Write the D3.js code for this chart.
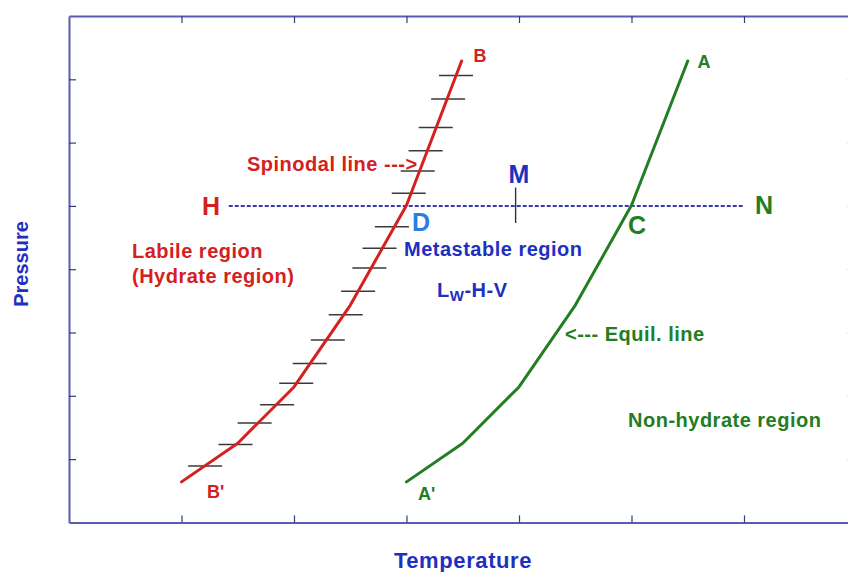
<!DOCTYPE html>
<html>
<head>
<meta charset="utf-8">
<script src="https://cdn.jsdelivr.net/npm/d3@7"></script>
<style>
  html, body { margin: 0; padding: 0; background: #fff; }
  svg { display: block; font-family: "Liberation Sans", Arial, sans-serif; font-weight: bold; }
</style>
</head>
<body>
<svg id="chart" width="848" height="572"></svg>
<script>
// ---- data (arbitrary units: T in tick units, P in tick units) ----
const pressure   = [0.64, 1.25, 2.14, 3.43, 5.01, 7.29];
const equilT     = [3.00, 3.50, 4.00, 4.50, 5.00, 5.50];   // A' -> A (equilibrium line)
const spinodalT  = [1.00, 1.50, 2.00, 2.50, 3.00, 3.49];   // B' -> B (spinodal line)
const hatchT = [1.21, 1.48, 1.65, 1.85, 2.02, 2.14, 2.30, 2.46, 2.57, 2.67, 2.76, 2.87, 3.02, 3.10, 3.17, 3.26, 3.37, 3.44];
const hatchP = [0.89, 1.23, 1.57, 1.86, 2.20, 2.51, 2.88, 3.28, 3.65, 4.02, 4.33, 4.67, 5.20, 5.55, 5.87, 6.24, 6.69, 7.06];
const isobarT = [1.42, 6.00];   // H -> N
const isobarP = 5.00;
const markM = { T: 3.97, P: [4.73, 5.29] };
const xTicks = [1, 2, 3, 4, 5, 6];
const yTicks = [1, 2, 3, 4, 5, 6, 7];

// ---- layout ----
const svg = d3.select("#chart");
const x = d3.scaleLinear().domain([0, 7]).range([69, 856.5]);
const y = d3.scaleLinear().domain([0, 8]).range([522.4, 16]);

const frameColor = "#5b5bb5";
const red = "#d42020", green = "#237d23", blue = "#1f2fc0";

function styleAxis(g) {
  g.select(".domain").attr("stroke", frameColor).attr("stroke-width", 2);
  g.selectAll(".tick line").attr("stroke", "#3a3a7a").attr("stroke-width", 1.2);
}
svg.append("g").attr("transform", `translate(0,${y(8)})`)
  .call(d3.axisBottom(x).tickValues(xTicks).tickSize(7).tickSizeOuter(0).tickFormat(""))
  .call(styleAxis);
svg.append("g").attr("transform", `translate(0,${y(0)})`)
  .call(d3.axisTop(x).tickValues(xTicks).tickSize(7).tickSizeOuter(0).tickFormat(""))
  .call(styleAxis);
svg.append("g").attr("transform", `translate(${x(0)},0)`)
  .call(d3.axisRight(y).tickValues(yTicks).tickSize(7).tickSizeOuter(0).tickFormat(""))
  .call(styleAxis);
svg.append("g").attr("transform", `translate(${x(7)},0)`)
  .call(d3.axisLeft(y).tickValues(yTicks).tickSize(10).tickSizeOuter(0).tickFormat(""))
  .call(g => { g.select(".domain").attr("stroke", frameColor).attr("stroke-width", 2);
               g.selectAll(".tick line").attr("stroke", "#e4e4e4").attr("stroke-width", 1); });

// isobar H - N
svg.append("line")
  .attr("x1", x(isobarT[0])).attr("x2", x(isobarT[1]))
  .attr("y1", y(isobarP)).attr("y2", y(isobarP))
  .attr("stroke", "#3a3ab8").attr("stroke-width", 2).attr("stroke-dasharray", "4,2");

// M marker
svg.append("line")
  .attr("x1", x(markM.T)).attr("x2", x(markM.T))
  .attr("y1", y(markM.P[0])).attr("y2", y(markM.P[1]))
  .attr("stroke", "#333").attr("stroke-width", 1.4);

// hatch marks along spinodal
const hatchHalf = 17;
svg.append("g").selectAll("line").data(hatchT.map((t, i) => [t, hatchP[i]]))
  .join("line")
  .attr("x1", d => x(d[0]) - hatchHalf).attr("x2", d => x(d[0]) + hatchHalf)
  .attr("y1", d => y(d[1])).attr("y2", d => y(d[1]))
  .attr("stroke", "#3a3a3a").attr("stroke-width", 1.5);

const line = d3.line().x(d => x(d[0])).y(d => y(d[1]));
svg.append("path").datum(spinodalT.map((t, i) => [t, pressure[i]]))
  .attr("d", line).attr("fill", "none").attr("stroke", red).attr("stroke-width", 3)
  .attr("stroke-linejoin", "round").attr("stroke-linecap", "round");
svg.append("path").datum(equilT.map((t, i) => [t, pressure[i]]))
  .attr("d", line).attr("fill", "none").attr("stroke", green).attr("stroke-width", 3)
  .attr("stroke-linejoin", "round").attr("stroke-linecap", "round");

// ---- text ----
function txt(str, px, py, size, color, anchor, ls) {
  return svg.append("text").attr("x", px).attr("y", py)
    .attr("font-size", size).attr("fill", color)
    .attr("letter-spacing", ls || 0)
    .attr("text-anchor", anchor || "start").text(str);
}
txt("B", 480, 62, 18, red, "middle");
txt("A", 704, 68, 18, green, "middle");
txt("B'", 207, 498, 18, red);
txt("A'", 418, 500, 18, green);
txt("H", 211, 215, 25, red, "middle");
txt("N", 764, 214, 25, green, "middle");
txt("M", 519, 183, 25, blue, "middle");
txt("D", 421, 231, 25, "#2a7de8", "middle");
txt("C", 637, 234, 25, green, "middle");

txt("Spinodal line --->", 247, 171, 20, red, "start", 0.5);
txt("Labile region", 132, 258, 20, red, "start", 0.5);
txt("(Hydrate region)", 132, 283, 20, red, "start", 0.5);
txt("Metastable region", 404, 256, 20, blue, "start", 0.5);
const lw = txt("L", 437, 297, 20, blue, "start", 0.5);
lw.append("tspan").attr("font-size", 15).attr("dy", 4).text("W");
lw.append("tspan").attr("dy", -4).text("-H-V");
txt("<--- Equil. line", 565, 341, 20, green, "start", 0.5);
txt("Non-hydrate region", 628, 427, 20, green, "start", 0.5);

txt("Temperature", 463, 568, 22, blue, "middle", 0.6);
svg.append("text").attr("transform", "translate(28,264) rotate(-90)")
  .attr("text-anchor", "middle").attr("font-size", 20).attr("fill", blue).text("Pressure");
</script>
</body>
</html>
